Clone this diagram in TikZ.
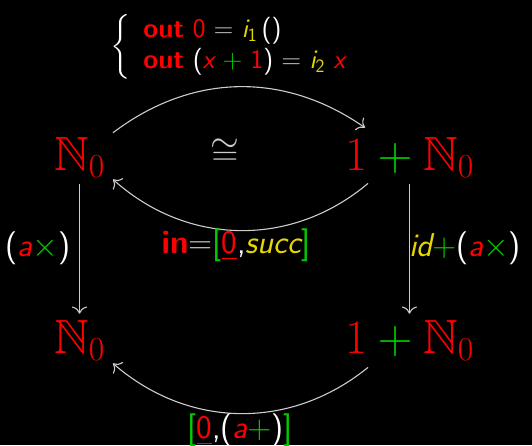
\documentclass[tikz,border=0pt]{standalone}
\usepackage{fix-cm}
\usepackage{amsmath}
\usepackage{amssymb}
\usetikzlibrary{arrows.meta, positioning}

\definecolor{catred}{RGB}{255,0,0}
\definecolor{catgreen}{RGB}{0,205,0}
\definecolor{catyellow}{RGB}{230,215,0}
\definecolor{catgray}{RGB}{205,205,205}
\newcommand{\redc}[1]{\textcolor{catred}{#1}}
\newcommand{\greenc}[1]{\textcolor{catgreen}{#1}}
\newcommand{\yellowc}[1]{\textcolor{catyellow}{#1}}
\newcommand{\grayc}[1]{\textcolor{catgray}{#1}}

\begin{document}
\begin{tikzpicture}[x=1pt, y=-1pt,
    obj/.style={text=catred, font=\fontsize{48}{58}\selectfont, inner sep=2pt},
    lbl/.style={text=white, font=\fontsize{33}{40}\selectfont\sffamily, inner sep=0pt},
    small/.style={text=white, font=\fontsize{27}{31}\selectfont\sffamily, inner sep=0pt},
    arr/.style={draw=catgray, line width=1.1pt, -{To[scale=1.8]}}]
            \path[use as bounding box, fill=black] (0,0) rectangle (532,445);

            \node[obj, anchor=base west] (nat) at (52,170) {$\mathbb{N}_0$};
            \node[obj, anchor=base west] (sum) at (343,170) {$1\mathbin{\greenc{+}}\mathbb{N}_0$};
            \node[obj, anchor=base west] (natb) at (52,353) {$\mathbb{N}_0$};
            \node[obj, anchor=base west] (sumb) at (343,353) {$1\mathbin{\greenc{+}}\mathbb{N}_0$};

            \draw[arr] ([xshift=6pt,yshift=2pt]nat.north east) to[bend left=36] ([xshift=22pt,yshift=7pt]sum.north west);
            \draw[arr] ([xshift=25pt,yshift=-4pt]sum.south west) to[bend left=41] ([xshift=6pt]nat.south east);
            \draw[arr] ([xshift=25pt,yshift=-5pt]sumb.south west) to[bend left=40] ([xshift=6pt,yshift=-1pt]natb.south east);
            \draw[arr, shorten <=5pt, shorten >=4pt] (nat) -- (natb);
            \draw[arr, shorten <=5pt, shorten >=4pt] (sum) -- (sumb);

            \node[lbl, text=catgray, font=\fontsize{37}{44}\selectfont] (iso) at (225,152) {$\cong$};
            \node[lbl] (mula) at (38,248) {(\redc{\itshape a}\greenc{$\times$})};
            \node[lbl] (inmap) at (236,245) {\redc{\bfseries in}\grayc{=}\greenc{[}\redc{\underline{0}},\yellowc{\itshape succ}\greenc{]}};
            \node[lbl] (mulb) at (465,248) {\yellowc{\itshape id}\greenc{$+$}(\redc{\itshape a}\greenc{$\times$})};
            \node[lbl] (fold) at (240,430) {\greenc{[}\redc{\underline{0}},(\redc{\itshape a}\greenc{$+$})\greenc{]}};

            \node[small, anchor=west] (defs) at (110,47) {$\left\{\text{\begin{tabular}{@{\hspace{13pt}}l@{}}
                \redc{\bfseries out} \redc{0} \grayc{$=$} \yellowc{\itshape i\textsubscript{\upshape 1}}\,()\\
                \redc{\bfseries out} (\redc{\itshape x} \greenc{$+$} \redc{1}) \grayc{$=$} \yellowc{\itshape i\textsubscript{\upshape 2}} \redc{\itshape x}
            \end{tabular}}\right.$};
        \end{tikzpicture}
\end{document}
